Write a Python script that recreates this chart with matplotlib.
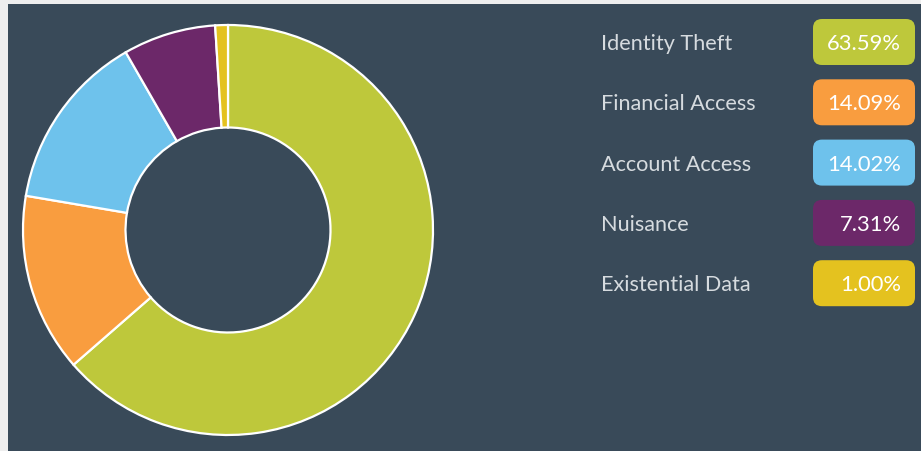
import matplotlib
matplotlib.use("Agg")
import matplotlib.pyplot as plt
from matplotlib.patches import FancyBboxPatch, Rectangle

categories = ["Identity Theft", "Financial Access", "Account Access", "Nuisance", "Existential Data"]
values = [63.59, 14.09, 14.02, 7.31, 1.00]
colors = ["#bec83b", "#f99d3f", "#6ec2ec", "#6c2869", "#e4c21f"]
labels = ["63.59%", "14.09%", "14.02%", "7.31%", "1.00%"]

BG = "#394a59"
W, H = 921, 451
fig = plt.figure(figsize=(W / 100, H / 100), dpi=100)
fig.patch.set_facecolor("#eeeeee")

# overlay axes in pixel coordinates
bg = fig.add_axes([0, 0, 1, 1])
bg.set_xlim(0, W)
bg.set_ylim(H, 0)
bg.axis("off")
bg.add_patch(Rectangle((8, 4), W - 8, H - 4, facecolor=BG, edgecolor="none"))

# donut
cx, cy, r = 228, 230, 205
pad = 4
ax = fig.add_axes([(cx - r - pad) / W, (H - cy - r - pad) / H, 2 * (r + pad) / W, 2 * (r + pad) / H])
ax.set_facecolor("none")
ax.pie(values, colors=colors, startangle=90, counterclock=False,
       wedgeprops=dict(width=0.5, edgecolor="white", linewidth=1.6))
lim = (r + pad) / r
ax.set_xlim(-lim, lim)
ax.set_ylim(-lim, lim)
ax.set_aspect("equal")
ax.axis("off")

# legend
y0, dy = 42, 60.3
for i, (cat, lab, col) in enumerate(zip(categories, labels, colors)):
    y = y0 + i * dy
    bg.text(601, y + 8, cat, color="#d6dbdf", fontsize=15.6, family="Lato",
            ha="left", va="baseline")
    bg.add_patch(FancyBboxPatch((813 + 9, y - 23 + 9), 102 - 18, 46 - 18,
                                boxstyle="round,pad=9", facecolor=col,
                                edgecolor="none"))
    bg.text(901, y + 8, lab, color="white", fontsize=15.8, family="Lato",
            ha="right", va="baseline")

fig.savefig("out.png", dpi=100, facecolor=fig.get_facecolor())
